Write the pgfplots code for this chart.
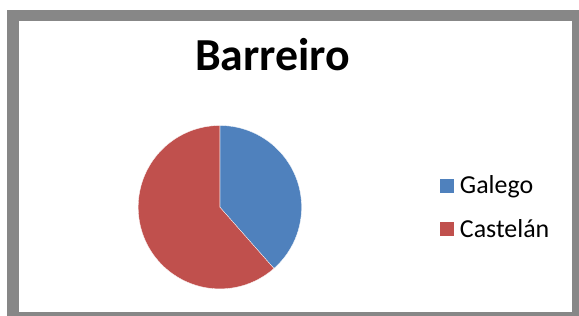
\documentclass[border=0pt]{standalone}
\usepackage{pgfplots}
\usepackage{pgfplotstable}
\pgfplotsset{compat=1.18}
\usepackage{fontspec}
\setmainfont{Carlito}
\definecolor{galego}{HTML}{4F81BD}
\definecolor{castelan}{HTML}{C0504D}
\definecolor{frame}{HTML}{878787}
\pgfplotstableread{
label value
Galego 38.5
Castelan 61.5
}\pietable
\begin{document}
\pgfplotstablegetelem{0}{value}\of\pietable
\let\vA\pgfplotsretval
\pgfplotstablegetelem{1}{value}\of\pietable
\let\vB\pgfplotsretval
\pgfmathsetmacro\angA{90-360*\vA/(\vA+\vB)}
\begin{tikzpicture}
\path (0bp,0bp) rectangle (579bp,317bp);
\fill[frame] (5bp,0bp) rectangle (579bp,307bp);
\fill[white] (17bp,4bp) rectangle (572bp,296bp);
\node[anchor=base, font=\fontsize{46bp}{50bp}\selectfont\bfseries] at (271.5bp,246bp) {Barreiro};
\begin{axis}[
  at={(136.5bp,27bp)}, anchor=south west,
  scale only axis, x=1bp, y=1bp,
  xmin=-82, xmax=82, ymin=-82, ymax=82,
  hide axis, clip=false,
  legend cell align=left,
  legend style={draw=none, fill=none, at={(axis cs:219.5,0)}, anchor=west,
    font=\fontsize{26bp}{30bp}\selectfont, row sep=22bp, inner sep=0pt,
    nodes={inner sep=1bp},
    /tikz/every odd column/.append style={column sep=5bp}},
  legend image code/.code={\fill[#1] (0bp,-7.5bp) rectangle (15bp,7.5bp);},
]
\addplot[fill=galego, draw=white, line width=0.3pt, domain=\angA:90, samples=150, variable=\t]
  ({82*cos(\t)},{82*sin(\t)}) -- (axis cs:0,0) -- cycle;
\addlegendentry{Galego}
\addplot[fill=castelan, draw=white, line width=0.3pt, domain=-270:\angA, samples=250, variable=\t]
  ({82*cos(\t)},{82*sin(\t)}) -- (axis cs:0,0) -- cycle;
\addlegendentry{Castelán}
\end{axis}
\end{tikzpicture}
\end{document}
